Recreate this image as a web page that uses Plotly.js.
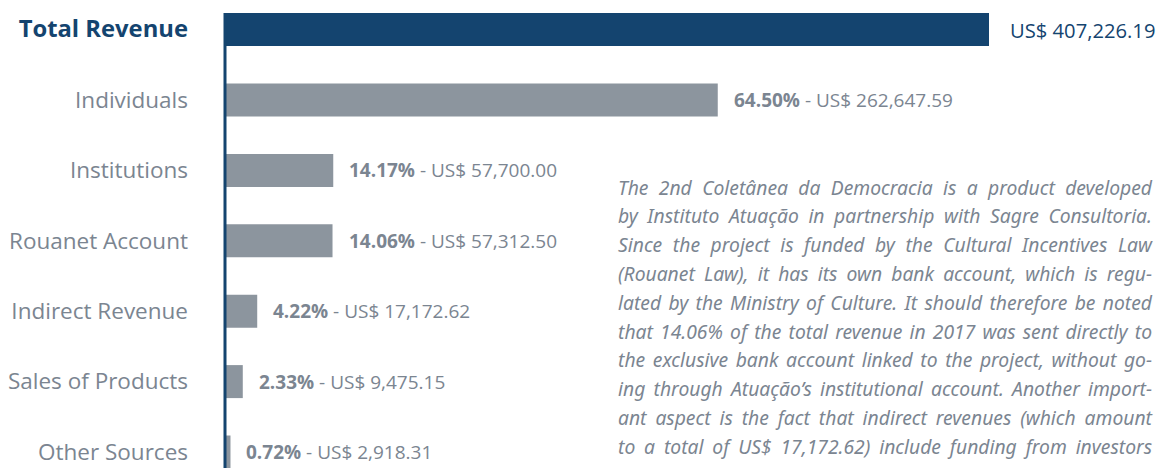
<!DOCTYPE html>
<html><head><meta charset="utf-8">
<script src="https://cdn.plot.ly/plotly-3.0.1.min.js"></script>
<style>html,body{margin:0;padding:0;background:#fff;}#chart{width:1163px;height:468px;}</style>
</head><body><div id="chart"></div>
<script>
const categories = ['Total Revenue','Individuals','Institutions','Rouanet Account','Indirect Revenue','Sales of Products','Other Sources'];
const values = [407226.19, 262647.59, 57700.00, 57312.50, 17172.62, 9475.15, 2918.31];
const shares = [null, 64.50, 14.17, 14.06, 4.22, 2.33, 0.72];
const noteLines = [
  'The 2nd Coletânea da Democracia is a product developed',
  'by Instituto Atuação in partnership with Sagre Consultoria.',
  'Since the project is funded by the Cultural Incentives Law',
  '(Rouanet Law), it has its own bank account, which is regu-',
  'lated by the Ministry of Culture. It should therefore be noted',
  'that 14.06% of the total revenue in 2017 was sent directly to',
  'the exclusive bank account linked to the project, without go-',
  'ing through Atuação’s institutional account. Another import-',
  'ant aspect is the fact that indirect revenues (which amount',
  'to a total of US$ 17,172.62) include funding from investors'
];

const DARK = '#14446f', GRAY_BAR = '#8c959e', GRAY_TEXT = '#7b8591';
const W = 1163, H = 468, L = 221, ZERO_PX = 225;
const plotW = W - L;
const k = 764 / values[0];               // px per unit so the total bar ends near x=989
const xmin = -(ZERO_PX - L) / k, xmax = (W - ZERO_PX) / k;
const rowPx = 70.4, firstPx = 29.6;
const yTop = -firstPx / rowPx, yBottom = (H - firstPx) / rowPx;
const barW = 33 / rowPx;
const idx = categories.map((c, i) => i);
const LABEL_FONT = 'Open Sans, sans-serif';

function fmt(v) { return 'US$ ' + v.toLocaleString('en-US', {minimumFractionDigits: 2, maximumFractionDigits: 2}); }

const ticktext = categories.map((c, i) => i === 0
  ? '<span style="color:' + DARK + ';font-size:23.8px"><b>' + c + '</b></span>' : c);

const data = [{
  type: 'bar', orientation: 'h', x: values, y: idx, width: barW,
  marker: {color: idx.map(i => i === 0 ? DARK : GRAY_BAR)},
  hoverinfo: 'none'
}];

const annotations = [];
idx.forEach(i => {
  annotations.push({
    x: values[i], y: i, xref: 'x', yref: 'y', xanchor: 'left', yanchor: 'middle',
    xshift: i === 0 ? 19 : 14, showarrow: false, align: 'left',
    text: i === 0 ? fmt(values[i]) : '<b>' + shares[i].toFixed(2) + '%</b> - ' + fmt(values[i]),
    font: {family: LABEL_FONT, size: i === 0 ? 20.2 : 19, color: i === 0 ? DARK : GRAY_TEXT}
  });
});
noteLines.forEach((t, i) => {
  annotations.push({
    x: (616 - L) / plotW, y: 1, xref: 'paper', yref: 'paper', xanchor: 'left', yanchor: 'middle',
    yshift: -(187 + 28.8 * i), showarrow: false, align: 'left', text: t,
    font: {family: 'Noto Sans, sans-serif', size: 19.3, style: 'italic', color: GRAY_TEXT}
  });
});

const layout = {
  width: W, height: H, margin: {l: L, r: 0, t: 0, b: 0},
  paper_bgcolor: '#fff', plot_bgcolor: '#fff', showlegend: false,
  xaxis: {range: [xmin, xmax], visible: false, fixedrange: true},
  yaxis: {range: [yBottom, yTop], tickvals: idx, ticktext: ticktext, showgrid: false, zeroline: false,
    showline: false, ticks: '', ticklabelstandoff: 32, ticklabeloverflow: 'allow', fixedrange: true,
    tickfont: {family: LABEL_FONT, size: 22.5, color: GRAY_TEXT}},
  shapes: [{type: 'line', xref: 'x', yref: 'y', x0: 0, x1: 0, y0: -barW / 2, y1: yBottom + 1,
    xshift: -1, line: {color: DARK, width: 3}, layer: 'above'}],
  annotations: annotations
};

Plotly.newPlot('chart', data, layout, {staticPlot: true}).then(gd => {
  gd.querySelectorAll('.annotation-text').forEach(t => {
    const s = t.textContent;
    if (noteLines.indexOf(s) < 0) return;
    const nat = t.getComputedTextLength();
    const spaces = (s.match(/ /g) || []).length;
    if (spaces) t.style.wordSpacing = ((534 - nat) / spaces) + 'px';
  });
});
</script></body></html>
